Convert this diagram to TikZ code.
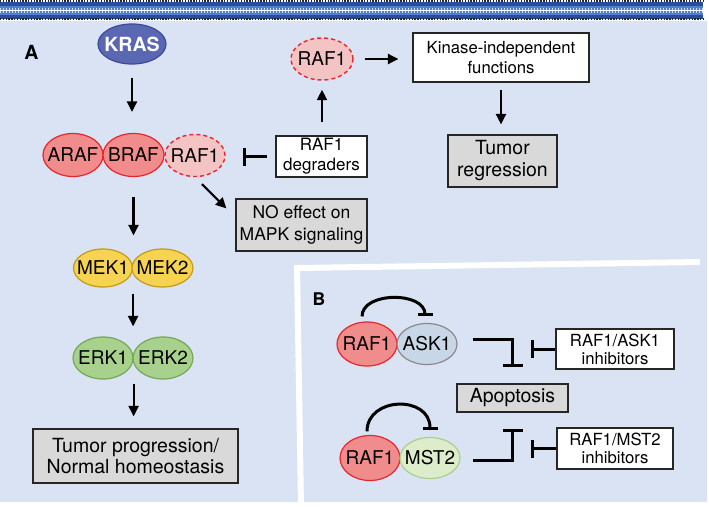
\documentclass[tikz,border=0pt]{standalone}
\usepackage{fontspec}
\setmainfont{TeX Gyre Heros}
\usetikzlibrary{shapes.geometric,arrows.meta,calc}

\definecolor{bgblue}{HTML}{DAE3F3}
\definecolor{krasfill}{HTML}{5A68B4}
\definecolor{krasedge}{HTML}{3F4A96}
\definecolor{rafred}{HTML}{F08C8C}
\definecolor{rafedge}{HTML}{E8262B}
\definecolor{rafpale}{HTML}{F4C4C4}
\definecolor{mekfill}{HTML}{F6D451}
\definecolor{mekedge}{HTML}{C49A1C}
\definecolor{erkfill}{HTML}{A9D18E}
\definecolor{erkedge}{HTML}{74A852}
\definecolor{askfill}{HTML}{C8D7E8}
\definecolor{askedge}{HTML}{8A8A8A}
\definecolor{mstfill}{HTML}{DDEDCB}
\definecolor{mstedge}{HTML}{A8D08C}
\definecolor{graybox}{HTML}{D9D9D9}
\definecolor{membdark}{HTML}{2A4C9E}
\definecolor{membmid}{HTML}{4F7FD0}

\newcommand\myfs[2]{\fontsize{#1}{#2}\selectfont}

\tikzset{
  prot/.style={ellipse, draw, line width=1.2pt, inner sep=0pt},
  ptext/.style={label={[font=\myfs{19}{22}, inner sep=0pt]center:#1}},
  rafA/.style={fill=rafred, draw=rafedge},
  rafD/.style={fill=rafpale, draw=rafedge, line width=1.4pt, dash pattern=on 4pt off 3pt},
  mek/.style={fill=mekfill, draw=mekedge},
  erk/.style={fill=erkfill, draw=erkedge},
  ask/.style={fill=askfill, draw=askedge},
  mst/.style={fill=mstfill, draw=mstedge},
  wbox/.style={rectangle, draw=black!85, fill=white, line width=1.2pt, align=center, inner sep=0pt},
  gbox/.style={rectangle, draw=black!85, fill=graybox, line width=1.2pt, align=center, inner sep=0pt},
  arr/.style={line width=2.2pt, -{Triangle[length=10.5pt,width=10pt]}},
  inh/.style={line width=3pt},
}

\begin{document}
\begin{tikzpicture}[x=1pt,y=-1pt]
\useasboundingbox (0,0) rectangle (709,506);

% background
\fill[bgblue] (0,21) rectangle (707,502);
% membrane
\fill[membdark] (0,1.5) rectangle (703,18.5);
\fill[membmid] (0,5.5) rectangle (703,14.5);
\draw[white!75!membmid, line width=5pt, dash pattern=on 0.7pt off 2.3pt] (0,10) -- (703,10);
\draw[white, line width=0.9pt] (0,10) -- (703,10);
\draw[black!85, line width=2pt, dash pattern=on 1.4pt off 1.4pt] (0,1) -- (703,1);
\draw[black!85, line width=2pt, dash pattern=on 1.4pt off 1.4pt] (0,19) -- (703,19);
% panel B separator
\draw[white, line width=6pt] (301,506) -- (297,268) -- (700,262);

% panel labels
\node[font=\bfseries\myfs{19.5}{19.5}] (lblA) at (31.5,52.5) {A};
\node[font=\bfseries\myfs{17.5}{17.5}] (lblB) at (319,299) {B};

% panel A
\node[prot, fill=krasfill, draw=krasedge, minimum width=68pt, minimum height=40pt,
      label={[font=\bfseries\myfs{19.5}{22}, text=white, inner sep=0pt]center:KRAS}] (kras) at (132,44) {};

\node[prot, rafA, minimum width=60pt, minimum height=43pt, ptext=ARAF] (araf) at (73,155) {};
\node[prot, rafA, minimum width=61pt, minimum height=43pt, ptext=BRAF] (braf) at (133.5,155) {};
\node[prot, rafD, minimum width=60pt, minimum height=42pt, ptext=RAF1] (raf1d) at (195,155.5) {};

\node[wbox, minimum width=91pt, minimum height=41pt, font=\myfs{17}{20}] (deg) at (321.5,156.5) {RAF1\\degraders};
\node[prot, rafD, minimum width=62pt, minimum height=42pt, ptext=RAF1] (raf1u) at (322,59) {};
\node[wbox, minimum width=176pt, minimum height=49pt, font=\myfs{16.7}{20}] (kin) at (501,57.5) {Kinase-independent\\functions};
\node[gbox, minimum width=109pt, minimum height=52pt, font=\myfs{19.5}{22}] (treg) at (502.5,161) {Tumor\\regression};
\node[gbox, minimum width=131pt, minimum height=52pt, font=\myfs{17.5}{22.5}] (noeff) at (301.5,225) {NO effect on\\MAPK signaling};

\node[prot, mek, minimum width=59pt, minimum height=38pt, ptext=MEK1] (mek1) at (103,268) {};
\node[prot, mek, minimum width=61pt, minimum height=38pt, ptext=MEK2] (mek2) at (162.5,268) {};
\node[prot, erk, minimum width=60pt, minimum height=42pt, ptext=ERK1] (erk1) at (103,358) {};
\node[prot, erk, minimum width=60pt, minimum height=42pt, ptext=ERK2] (erk2) at (163,358) {};
\node[gbox, minimum width=205pt, minimum height=54pt, font=\myfs{19.5}{21.5}] (tprog) at (135.5,456) {Tumor progression/\\Normal homeostasis};

% panel A connectors
\draw[arr, shorten <=13pt, shorten >=21pt] (kras.south) -- (kras.south |- braf.north);
\draw[arr, shorten <=20pt, shorten >=13pt] (braf.south) -- (braf.south |- mek1.north);
\draw[arr, shorten <=6pt, shorten >=10pt] (mek1.east |- mek1.south) -- (mek1.east |- erk1.north);
\draw[arr, shorten <=4pt, shorten >=12pt] (erk1.east |- erk1.south) -- (erk1.east |- tprog.north);
\draw[inh, -{Bar[width=18pt]}, shorten <=8pt, shorten >=17pt] (deg.west) -- (deg.west -| raf1d.east);
\draw[arr, shorten <=13pt, shorten >=9pt] (deg.north -| raf1u.south) -- (raf1u.south);
\draw[arr, shorten <=11pt, shorten >=14pt] (raf1u.east) -- (raf1u.east -| kin.west);
\draw[arr, shorten <=7pt, shorten >=10pt] (kin.south) -- (kin.south |- treg.north);
\draw[arr] ($(raf1d.south)+(7,7)$) -- ($(noeff.north west)+(-9,10)$);

% panel B
\node[prot, rafA, minimum width=60pt, minimum height=44pt, ptext=RAF1] (rb1) at (367,344) {};
\node[prot, ask, minimum width=60pt, minimum height=41pt, ptext=ASK1] (ask) at (427,344) {};
\node[prot, rafA, minimum width=60pt, minimum height=45pt, ptext=RAF1] (rb2) at (370,458) {};
\node[prot, mst, minimum width=60pt, minimum height=41pt, ptext=MST2] (mst) at (430,458) {};
\node[gbox, minimum width=111pt, minimum height=28pt, font=\myfs{19.5}{22}] (apop) at (512.5,398) {Apoptosis};
\node[wbox, minimum width=118pt, minimum height=40pt, font=\myfs{16.7}{18}] (ia) at (615,349) {RAF1/ASK1\\inhibitors};
\node[wbox, minimum width=116pt, minimum height=41pt, font=\myfs{16.7}{18.5}] (im) at (615,448.5) {RAF1/MST2\\inhibitors};

\draw[inh, -{Bar[width=15pt]}] ($(rb1.north)+(-5,-5)$) .. controls +(0,-25) and +(0,-25) .. ($(ask.north)+(-2,-6.5)$);
\draw[inh, -{Bar[width=15pt]}] ($(rb2.north)+(-3,-3.5)$) .. controls +(0,-35) and +(0,-35) .. ($(mst.north)+(0,-7)$);
\draw[inh, -{Bar[width=20pt]}] ($(ask.east)+(15,-5)$) -| ($(apop.north)+(0,-16)$);
\draw[inh, -{Bar[width=20pt]}] ($(mst.east)+(12,2)$) -| ($(apop.south)+(0,16)$);
\draw[inh, -{Bar[width=18pt]}, shorten >=18pt] (ia.west) -- (ia.west -| apop.north);
\draw[inh, -{Bar[width=18pt]}, shorten >=18pt] (im.west) -- (im.west -| apop.south);
\end{tikzpicture}
\end{document}
